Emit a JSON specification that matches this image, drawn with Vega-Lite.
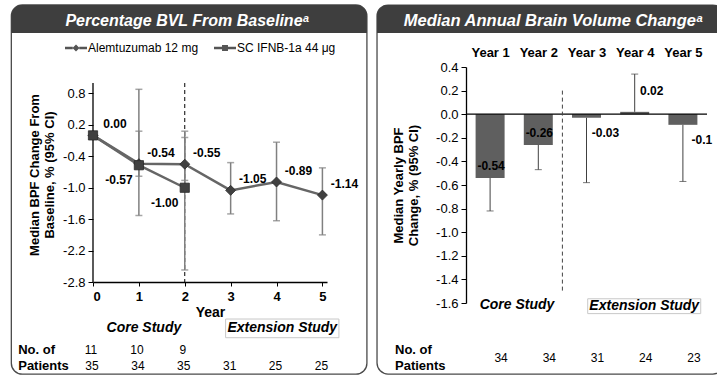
{
  "$schema": "https://vega.github.io/schema/vega-lite/v6.json",
  "padding": {"left": 10, "top": 4, "right": 0, "bottom": 0},
  "spacing": 8,
  "background": "white",
  "config": {
    "view": {"stroke": null},
    "font": "Liberation Sans",
    "locale": {"number": {"decimal": ".", "thousands": ",", "grouping": [3], "currency": ["$", ""], "minus": "-"}},
    "scale": {"continuousPadding": 0},
    "axis": {"labelFont": "Liberation Sans", "titleFont": "Liberation Sans", "labelColor": "#000000", "titleColor": "#000000", "domainColor": "#000000", "tickColor": "#000000", "grid": false, "labelFontSize": 13, "titleFontSize": 13, "titleFontWeight": "bold", "domainWidth": 1.3, "tickWidth": 1}
  },
  "datasets": {
    "bvl": [
      {"year": 0, "arm": "Alemtuzumab 12 mg", "median": 0.0, "lo": 0.0, "hi": 0.0},
      {"year": 1, "arm": "Alemtuzumab 12 mg", "median": -0.54, "lo": -0.78, "hi": 0.08},
      {"year": 2, "arm": "Alemtuzumab 12 mg", "median": -0.55, "lo": -0.86, "hi": 0.08},
      {"year": 3, "arm": "Alemtuzumab 12 mg", "median": -1.05, "lo": -1.5, "hi": -0.52},
      {"year": 4, "arm": "Alemtuzumab 12 mg", "median": -0.89, "lo": -1.63, "hi": -0.13},
      {"year": 5, "arm": "Alemtuzumab 12 mg", "median": -1.14, "lo": -1.9, "hi": -0.62},
      {"year": 0, "arm": "SC IFNB-1a 44 μg", "median": 0.0, "lo": 0.0, "hi": 0.0},
      {"year": 1, "arm": "SC IFNB-1a 44 μg", "median": -0.57, "lo": -1.53, "hi": 0.88},
      {"year": 2, "arm": "SC IFNB-1a 44 μg", "median": -1.0, "lo": -2.57, "hi": -0.04}
    ],
    "bvl_n": [
      {"year": 0, "arm": "SC IFNB-1a 44 μg", "n": 11},
      {"year": 1, "arm": "SC IFNB-1a 44 μg", "n": 10},
      {"year": 2, "arm": "SC IFNB-1a 44 μg", "n": 9},
      {"year": 0, "arm": "Alemtuzumab 12 mg", "n": 35},
      {"year": 1, "arm": "Alemtuzumab 12 mg", "n": 34},
      {"year": 2, "arm": "Alemtuzumab 12 mg", "n": 35},
      {"year": 3, "arm": "Alemtuzumab 12 mg", "n": 31},
      {"year": 4, "arm": "Alemtuzumab 12 mg", "n": 25},
      {"year": 5, "arm": "Alemtuzumab 12 mg", "n": 25}
    ],
    "abv": [
      {"year": 1, "median": -0.54, "ci": -0.82, "text": "-0.54", "n": 34},
      {"year": 2, "median": -0.26, "ci": -0.47, "text": "-0.26", "n": 34},
      {"year": 3, "median": -0.03, "ci": -0.58, "text": "-0.03", "n": 31},
      {"year": 4, "median": 0.02, "ci": 0.34, "text": "0.02", "n": 24},
      {"year": 5, "median": -0.09, "ci": -0.57, "text": "-0.1", "n": 23}
    ]
  },
  "hconcat": [
    {
      "width": 234,
      "height": 215,
      "layer": [
        {
          "data": {"values": [{"panel": "Percentage BVL From Baseline"}]},
          "mark": {"type": "rect", "fill": "transparent", "stroke": "#4a4a4a", "strokeWidth": 1.3, "cornerRadius": 11, "clip": false},
          "encoding": {
            "x": {"datum": -1.78, "type": "quantitative", "scale": {"domain": [0, 5.1], "nice": false, "zero": false, "padding": 0}, "axis": {"values": [0, 1, 2, 3, 4, 5], "format": "d", "title": "Year", "labelFontWeight": "bold", "labelFontSize": 13, "titleFontSize": 14, "tickSize": 4, "labelPadding": 4, "titlePadding": 2}},
            "x2": {"datum": 5.97},
            "y": {"datum": 2.49, "type": "quantitative", "scale": {"domain": [-2.8, 1.306], "nice": false, "zero": false, "padding": 0}, "axis": {"values": [-2.8, -2.2, -1.6, -1.0, -0.4, 0.2, 0.8], "format": ".1f", "title": ["Median BPF Change From", "Baseline, % (95% CI)"], "domain": false, "tickSize": 5, "labelPadding": 3, "titlePadding": 6}},
            "y2": {"datum": -4.56}
          }
        },
        {
          "data": {"values": [{"panel": "Percentage BVL From Baseline"}]},
          "mark": {"type": "rect", "fill": "#3e3e3e", "cornerRadiusTopLeft": 11, "cornerRadiusTopRight": 11, "clip": false},
          "encoding": {
            "x": {"datum": -1.78, "type": "quantitative", "scale": {"domain": [0, 5.1], "nice": false, "zero": false, "padding": 0}, "axis": {"values": [0, 1, 2, 3, 4, 5], "format": "d", "title": "Year", "labelFontWeight": "bold", "labelFontSize": 13, "titleFontSize": 14, "tickSize": 4, "labelPadding": 4, "titlePadding": 2}},
            "x2": {"datum": 5.97},
            "y": {"datum": 2.49, "type": "quantitative", "scale": {"domain": [-2.8, 1.306], "nice": false, "zero": false, "padding": 0}, "axis": {"values": [-2.8, -2.2, -1.6, -1.0, -0.4, 0.2, 0.8], "format": ".1f", "title": ["Median BPF Change From", "Baseline, % (95% CI)"], "domain": false, "tickSize": 5, "labelPadding": 3, "titlePadding": 6}},
            "y2": {"datum": 1.955}
          }
        },
        {
          "data": {"values": [{"title": "Percentage BVL From Baselineᵃ"}]},
          "mark": {"type": "text", "color": "#ffffff", "fontSize": 16, "fontWeight": "bold", "fontStyle": "italic", "clip": false},
          "encoding": {
            "x": {"datum": 2.05, "type": "quantitative", "scale": {"domain": [0, 5.1], "nice": false, "zero": false, "padding": 0}, "axis": {"values": [0, 1, 2, 3, 4, 5], "format": "d", "title": "Year", "labelFontWeight": "bold", "labelFontSize": 13, "titleFontSize": 14, "tickSize": 4, "labelPadding": 4, "titlePadding": 2}},
            "y": {"datum": 2.184, "type": "quantitative", "scale": {"domain": [-2.8, 1.306], "nice": false, "zero": false, "padding": 0}, "axis": {"values": [-2.8, -2.2, -1.6, -1.0, -0.4, 0.2, 0.8], "format": ".1f", "title": ["Median BPF Change From", "Baseline, % (95% CI)"], "domain": false, "tickSize": 5, "labelPadding": 3, "titlePadding": 6}},
            "text": {"field": "title"}
          }
        },
        {
          "data": {"name": "bvl"},
          "transform": [{"filter": "datum.year == 0"}],
          "mark": {"type": "point", "filled": true, "color": "#555555", "opacity": 0},
          "encoding": {
            "x": {"field": "year", "type": "quantitative", "scale": {"domain": [0, 5.1], "nice": false, "zero": false, "padding": 0}, "axis": {"values": [0, 1, 2, 3, 4, 5], "format": "d", "title": "Year", "labelFontWeight": "bold", "labelFontSize": 13, "titleFontSize": 14, "tickSize": 4, "labelPadding": 4, "titlePadding": 2}},
            "y": {"field": "median", "type": "quantitative", "scale": {"domain": [-2.8, 1.306], "nice": false, "zero": false, "padding": 0}, "axis": {"values": [-2.8, -2.2, -1.6, -1.0, -0.4, 0.2, 0.8], "format": ".1f", "title": ["Median BPF Change From", "Baseline, % (95% CI)"], "domain": false, "tickSize": 5, "labelPadding": 3, "titlePadding": 6}},
            "shape": {
              "field": "arm", "type": "nominal",
              "scale": {"domain": ["Alemtuzumab 12 mg", "SC IFNB-1a 44 μg"], "range": ["M-1,-0.11H-0.3V0.11H-1Z M0.3,-0.11H1V0.11H0.3Z M0,-0.32L0.32,0L0,0.32L-0.32,0Z", "M-1,-0.11H-0.27V0.11H-1Z M0.27,-0.11H1V0.11H0.27Z M-0.27,-0.27H0.27V0.27H-0.27Z"]},
              "legend": {"orient": "none", "legendX": -28, "legendY": -30, "direction": "horizontal", "title": null, "symbolSize": 484, "symbolOpacity": 1, "symbolFillColor": "#505050", "symbolStrokeWidth": 0, "labelFontSize": 12, "labelFont": "Liberation Sans", "labelColor": "#000000", "labelOffset": 1, "columnPadding": 15}
            }
          }
        },
        {
          "data": {"values": [{"axis": "y axis line"}]},
          "mark": {"type": "rule", "color": "#000000", "strokeWidth": 1.3},
          "encoding": {
            "x": {"datum": 0, "type": "quantitative", "scale": {"domain": [0, 5.1], "nice": false, "zero": false, "padding": 0}, "axis": {"values": [0, 1, 2, 3, 4, 5], "format": "d", "title": "Year", "labelFontWeight": "bold", "labelFontSize": 13, "titleFontSize": 14, "tickSize": 4, "labelPadding": 4, "titlePadding": 2}},
            "y": {"datum": 1.0, "type": "quantitative", "scale": {"domain": [-2.8, 1.306], "nice": false, "zero": false, "padding": 0}, "axis": {"values": [-2.8, -2.2, -1.6, -1.0, -0.4, 0.2, 0.8], "format": ".1f", "title": ["Median BPF Change From", "Baseline, % (95% CI)"], "domain": false, "tickSize": 5, "labelPadding": 3, "titlePadding": 6}},
            "y2": {"datum": -2.8}
          }
        },
        {
          "data": {"values": [{"phase": "end of core study"}]},
          "mark": {"type": "rule", "color": "#000000", "strokeWidth": 1, "strokeDash": [4, 3]},
          "encoding": {
            "x": {"datum": 2, "type": "quantitative", "scale": {"domain": [0, 5.1], "nice": false, "zero": false, "padding": 0}, "axis": {"values": [0, 1, 2, 3, 4, 5], "format": "d", "title": "Year", "labelFontWeight": "bold", "labelFontSize": 13, "titleFontSize": 14, "tickSize": 4, "labelPadding": 4, "titlePadding": 2}},
            "y": {"datum": 1.0, "type": "quantitative", "scale": {"domain": [-2.8, 1.306], "nice": false, "zero": false, "padding": 0}, "axis": {"values": [-2.8, -2.2, -1.6, -1.0, -0.4, 0.2, 0.8], "format": ".1f", "title": ["Median BPF Change From", "Baseline, % (95% CI)"], "domain": false, "tickSize": 5, "labelPadding": 3, "titlePadding": 6}},
            "y2": {"datum": -2.8}
          }
        },
        {
          "data": {"name": "bvl"},
          "transform": [{"filter": "datum.year > 0"}],
          "mark": {"type": "rule", "color": "#808080", "strokeWidth": 1.5},
          "encoding": {
            "x": {"field": "year", "type": "quantitative", "scale": {"domain": [0, 5.1], "nice": false, "zero": false, "padding": 0}, "axis": {"values": [0, 1, 2, 3, 4, 5], "format": "d", "title": "Year", "labelFontWeight": "bold", "labelFontSize": 13, "titleFontSize": 14, "tickSize": 4, "labelPadding": 4, "titlePadding": 2}},
            "y": {"field": "lo", "type": "quantitative", "scale": {"domain": [-2.8, 1.306], "nice": false, "zero": false, "padding": 0}, "axis": {"values": [-2.8, -2.2, -1.6, -1.0, -0.4, 0.2, 0.8], "format": ".1f", "title": ["Median BPF Change From", "Baseline, % (95% CI)"], "domain": false, "tickSize": 5, "labelPadding": 3, "titlePadding": 6}},
            "y2": {"field": "hi"}
          }
        },
        {
          "data": {"name": "bvl"},
          "transform": [{"filter": "datum.year > 0"}],
          "mark": {"type": "tick", "orient": "horizontal", "color": "#808080", "size": 7, "thickness": 1.5},
          "encoding": {
            "x": {"field": "year", "type": "quantitative", "scale": {"domain": [0, 5.1], "nice": false, "zero": false, "padding": 0}, "axis": {"values": [0, 1, 2, 3, 4, 5], "format": "d", "title": "Year", "labelFontWeight": "bold", "labelFontSize": 13, "titleFontSize": 14, "tickSize": 4, "labelPadding": 4, "titlePadding": 2}},
            "y": {"field": "lo", "type": "quantitative", "scale": {"domain": [-2.8, 1.306], "nice": false, "zero": false, "padding": 0}, "axis": {"values": [-2.8, -2.2, -1.6, -1.0, -0.4, 0.2, 0.8], "format": ".1f", "title": ["Median BPF Change From", "Baseline, % (95% CI)"], "domain": false, "tickSize": 5, "labelPadding": 3, "titlePadding": 6}}
          }
        },
        {
          "data": {"name": "bvl"},
          "transform": [{"filter": "datum.year > 0"}],
          "mark": {"type": "tick", "orient": "horizontal", "color": "#808080", "size": 7, "thickness": 1.5},
          "encoding": {
            "x": {"field": "year", "type": "quantitative", "scale": {"domain": [0, 5.1], "nice": false, "zero": false, "padding": 0}, "axis": {"values": [0, 1, 2, 3, 4, 5], "format": "d", "title": "Year", "labelFontWeight": "bold", "labelFontSize": 13, "titleFontSize": 14, "tickSize": 4, "labelPadding": 4, "titlePadding": 2}},
            "y": {"field": "hi", "type": "quantitative", "scale": {"domain": [-2.8, 1.306], "nice": false, "zero": false, "padding": 0}, "axis": {"values": [-2.8, -2.2, -1.6, -1.0, -0.4, 0.2, 0.8], "format": ".1f", "title": ["Median BPF Change From", "Baseline, % (95% CI)"], "domain": false, "tickSize": 5, "labelPadding": 3, "titlePadding": 6}}
          }
        },
        {
          "data": {"name": "bvl"},
          "mark": {"type": "line", "color": "#666666", "strokeWidth": 2.5},
          "encoding": {
            "x": {"field": "year", "type": "quantitative", "scale": {"domain": [0, 5.1], "nice": false, "zero": false, "padding": 0}, "axis": {"values": [0, 1, 2, 3, 4, 5], "format": "d", "title": "Year", "labelFontWeight": "bold", "labelFontSize": 13, "titleFontSize": 14, "tickSize": 4, "labelPadding": 4, "titlePadding": 2}},
            "y": {"field": "median", "type": "quantitative", "scale": {"domain": [-2.8, 1.306], "nice": false, "zero": false, "padding": 0}, "axis": {"values": [-2.8, -2.2, -1.6, -1.0, -0.4, 0.2, 0.8], "format": ".1f", "title": ["Median BPF Change From", "Baseline, % (95% CI)"], "domain": false, "tickSize": 5, "labelPadding": 3, "titlePadding": 6}},
            "detail": {"field": "arm"}
          }
        },
        {
          "data": {"name": "bvl"},
          "transform": [{"filter": "datum.arm == 'Alemtuzumab 12 mg'"}],
          "mark": {"type": "point", "shape": "diamond", "filled": true, "color": "#404040", "stroke": "#2a2a2a", "strokeWidth": 0.8, "size": 100, "opacity": 1},
          "encoding": {
            "x": {"field": "year", "type": "quantitative", "scale": {"domain": [0, 5.1], "nice": false, "zero": false, "padding": 0}, "axis": {"values": [0, 1, 2, 3, 4, 5], "format": "d", "title": "Year", "labelFontWeight": "bold", "labelFontSize": 13, "titleFontSize": 14, "tickSize": 4, "labelPadding": 4, "titlePadding": 2}},
            "y": {"field": "median", "type": "quantitative", "scale": {"domain": [-2.8, 1.306], "nice": false, "zero": false, "padding": 0}, "axis": {"values": [-2.8, -2.2, -1.6, -1.0, -0.4, 0.2, 0.8], "format": ".1f", "title": ["Median BPF Change From", "Baseline, % (95% CI)"], "domain": false, "tickSize": 5, "labelPadding": 3, "titlePadding": 6}}
          }
        },
        {
          "data": {"name": "bvl"},
          "transform": [{"filter": "datum.arm == 'SC IFNB-1a 44 μg'"}],
          "mark": {"type": "point", "shape": "square", "filled": true, "color": "#404040", "stroke": "#2a2a2a", "strokeWidth": 0.8, "size": 85, "opacity": 1},
          "encoding": {
            "x": {"field": "year", "type": "quantitative", "scale": {"domain": [0, 5.1], "nice": false, "zero": false, "padding": 0}, "axis": {"values": [0, 1, 2, 3, 4, 5], "format": "d", "title": "Year", "labelFontWeight": "bold", "labelFontSize": 13, "titleFontSize": 14, "tickSize": 4, "labelPadding": 4, "titlePadding": 2}},
            "y": {"field": "median", "type": "quantitative", "scale": {"domain": [-2.8, 1.306], "nice": false, "zero": false, "padding": 0}, "axis": {"values": [-2.8, -2.2, -1.6, -1.0, -0.4, 0.2, 0.8], "format": ".1f", "title": ["Median BPF Change From", "Baseline, % (95% CI)"], "domain": false, "tickSize": 5, "labelPadding": 3, "titlePadding": 6}}
          }
        },
        {
          "data": {"name": "bvl"},
          "transform": [{"filter": "datum.arm == 'Alemtuzumab 12 mg'"}],
          "mark": {"type": "text", "fontSize": 12, "fontWeight": "bold", "color": "#000000", "dx": 22, "dy": -11},
          "encoding": {
            "x": {"field": "year", "type": "quantitative", "scale": {"domain": [0, 5.1], "nice": false, "zero": false, "padding": 0}, "axis": {"values": [0, 1, 2, 3, 4, 5], "format": "d", "title": "Year", "labelFontWeight": "bold", "labelFontSize": 13, "titleFontSize": 14, "tickSize": 4, "labelPadding": 4, "titlePadding": 2}},
            "y": {"field": "median", "type": "quantitative", "scale": {"domain": [-2.8, 1.306], "nice": false, "zero": false, "padding": 0}, "axis": {"values": [-2.8, -2.2, -1.6, -1.0, -0.4, 0.2, 0.8], "format": ".1f", "title": ["Median BPF Change From", "Baseline, % (95% CI)"], "domain": false, "tickSize": 5, "labelPadding": 3, "titlePadding": 6}},
            "text": {"field": "median", "type": "quantitative", "format": ".2f"}
          }
        },
        {
          "data": {"name": "bvl"},
          "transform": [{"filter": "datum.arm == 'SC IFNB-1a 44 μg' && datum.year > 0"}],
          "mark": {"type": "text", "fontSize": 12, "fontWeight": "bold", "color": "#000000", "dx": -20, "dy": 15},
          "encoding": {
            "x": {"field": "year", "type": "quantitative", "scale": {"domain": [0, 5.1], "nice": false, "zero": false, "padding": 0}, "axis": {"values": [0, 1, 2, 3, 4, 5], "format": "d", "title": "Year", "labelFontWeight": "bold", "labelFontSize": 13, "titleFontSize": 14, "tickSize": 4, "labelPadding": 4, "titlePadding": 2}},
            "y": {"field": "median", "type": "quantitative", "scale": {"domain": [-2.8, 1.306], "nice": false, "zero": false, "padding": 0}, "axis": {"values": [-2.8, -2.2, -1.6, -1.0, -0.4, 0.2, 0.8], "format": ".1f", "title": ["Median BPF Change From", "Baseline, % (95% CI)"], "domain": false, "tickSize": 5, "labelPadding": 3, "titlePadding": 6}},
            "text": {"field": "median", "type": "quantitative", "format": ".2f"}
          }
        },
        {
          "data": {"values": [{"label": "Core Study"}]},
          "mark": {"type": "text", "fontSize": 14, "fontWeight": "bold", "fontStyle": "italic", "color": "#000000", "clip": false},
          "encoding": {
            "x": {"datum": 1.11, "type": "quantitative", "scale": {"domain": [0, 5.1], "nice": false, "zero": false, "padding": 0}, "axis": {"values": [0, 1, 2, 3, 4, 5], "format": "d", "title": "Year", "labelFontWeight": "bold", "labelFontSize": 13, "titleFontSize": 14, "tickSize": 4, "labelPadding": 4, "titlePadding": 2}},
            "y": {"datum": -3.68, "type": "quantitative", "scale": {"domain": [-2.8, 1.306], "nice": false, "zero": false, "padding": 0}, "axis": {"values": [-2.8, -2.2, -1.6, -1.0, -0.4, 0.2, 0.8], "format": ".1f", "title": ["Median BPF Change From", "Baseline, % (95% CI)"], "domain": false, "tickSize": 5, "labelPadding": 3, "titlePadding": 6}},
            "text": {"field": "label"}
          }
        },
        {
          "data": {"values": [{"label": "Extension Study"}]},
          "mark": {"type": "rect", "fill": "#ffffff", "stroke": "#c8c8c8", "strokeWidth": 1, "clip": false},
          "encoding": {
            "x": {"datum": 2.89, "type": "quantitative", "scale": {"domain": [0, 5.1], "nice": false, "zero": false, "padding": 0}, "axis": {"values": [0, 1, 2, 3, 4, 5], "format": "d", "title": "Year", "labelFontWeight": "bold", "labelFontSize": 13, "titleFontSize": 14, "tickSize": 4, "labelPadding": 4, "titlePadding": 2}},
            "x2": {"datum": 5.36},
            "y": {"datum": -3.507, "type": "quantitative", "scale": {"domain": [-2.8, 1.306], "nice": false, "zero": false, "padding": 0}, "axis": {"values": [-2.8, -2.2, -1.6, -1.0, -0.4, 0.2, 0.8], "format": ".1f", "title": ["Median BPF Change From", "Baseline, % (95% CI)"], "domain": false, "tickSize": 5, "labelPadding": 3, "titlePadding": 6}},
            "y2": {"datum": -3.864}
          }
        },
        {
          "data": {"values": [{"label": "Extension Study"}]},
          "mark": {"type": "text", "fontSize": 14, "fontWeight": "bold", "fontStyle": "italic", "color": "#000000", "clip": false},
          "encoding": {
            "x": {"datum": 4.125, "type": "quantitative", "scale": {"domain": [0, 5.1], "nice": false, "zero": false, "padding": 0}, "axis": {"values": [0, 1, 2, 3, 4, 5], "format": "d", "title": "Year", "labelFontWeight": "bold", "labelFontSize": 13, "titleFontSize": 14, "tickSize": 4, "labelPadding": 4, "titlePadding": 2}},
            "y": {"datum": -3.686, "type": "quantitative", "scale": {"domain": [-2.8, 1.306], "nice": false, "zero": false, "padding": 0}, "axis": {"values": [-2.8, -2.2, -1.6, -1.0, -0.4, 0.2, 0.8], "format": ".1f", "title": ["Median BPF Change From", "Baseline, % (95% CI)"], "domain": false, "tickSize": 5, "labelPadding": 3, "titlePadding": 6}},
            "text": {"field": "label"}
          }
        },
        {
          "data": {"values": [{"label": "No. of\nPatients"}]},
          "mark": {"type": "text", "fontSize": 13, "fontWeight": "bold", "align": "left", "baseline": "middle", "lineBreak": "\n", "lineHeight": 16, "color": "#000000", "clip": false},
          "encoding": {
            "x": {"datum": -1.63, "type": "quantitative", "scale": {"domain": [0, 5.1], "nice": false, "zero": false, "padding": 0}, "axis": {"values": [0, 1, 2, 3, 4, 5], "format": "d", "title": "Year", "labelFontWeight": "bold", "labelFontSize": 13, "titleFontSize": 14, "tickSize": 4, "labelPadding": 4, "titlePadding": 2}},
            "y": {"datum": -4.104, "type": "quantitative", "scale": {"domain": [-2.8, 1.306], "nice": false, "zero": false, "padding": 0}, "axis": {"values": [-2.8, -2.2, -1.6, -1.0, -0.4, 0.2, 0.8], "format": ".1f", "title": ["Median BPF Change From", "Baseline, % (95% CI)"], "domain": false, "tickSize": 5, "labelPadding": 3, "titlePadding": 6}},
            "text": {"field": "label"}
          }
        },
        {
          "data": {"name": "bvl_n"},
          "transform": [{"filter": "datum.arm == 'SC IFNB-1a 44 μg'"}],
          "mark": {"type": "text", "fontSize": 12, "color": "#000000", "clip": false, "dx": -2},
          "encoding": {
            "x": {"field": "year", "type": "quantitative", "scale": {"domain": [0, 5.1], "nice": false, "zero": false, "padding": 0}, "axis": {"values": [0, 1, 2, 3, 4, 5], "format": "d", "title": "Year", "labelFontWeight": "bold", "labelFontSize": 13, "titleFontSize": 14, "tickSize": 4, "labelPadding": 4, "titlePadding": 2}},
            "y": {"datum": -4.104, "type": "quantitative", "scale": {"domain": [-2.8, 1.306], "nice": false, "zero": false, "padding": 0}, "axis": {"values": [-2.8, -2.2, -1.6, -1.0, -0.4, 0.2, 0.8], "format": ".1f", "title": ["Median BPF Change From", "Baseline, % (95% CI)"], "domain": false, "tickSize": 5, "labelPadding": 3, "titlePadding": 6}},
            "text": {"field": "n", "type": "quantitative"}
          }
        },
        {
          "data": {"name": "bvl_n"},
          "transform": [{"filter": "datum.arm == 'Alemtuzumab 12 mg'"}],
          "mark": {"type": "text", "fontSize": 12, "color": "#000000", "clip": false, "dx": -1},
          "encoding": {
            "x": {"field": "year", "type": "quantitative", "scale": {"domain": [0, 5.1], "nice": false, "zero": false, "padding": 0}, "axis": {"values": [0, 1, 2, 3, 4, 5], "format": "d", "title": "Year", "labelFontWeight": "bold", "labelFontSize": 13, "titleFontSize": 14, "tickSize": 4, "labelPadding": 4, "titlePadding": 2}},
            "y": {"datum": -4.404, "type": "quantitative", "scale": {"domain": [-2.8, 1.306], "nice": false, "zero": false, "padding": 0}, "axis": {"values": [-2.8, -2.2, -1.6, -1.0, -0.4, 0.2, 0.8], "format": ".1f", "title": ["Median BPF Change From", "Baseline, % (95% CI)"], "domain": false, "tickSize": 5, "labelPadding": 3, "titlePadding": 6}},
            "text": {"field": "n", "type": "quantitative"}
          }
        }
      ]
    },
    {
      "width": 241,
      "height": 236,
      "layer": [
        {
          "data": {"values": [{"panel": "Median Annual Brain Volume Change"}]},
          "mark": {"type": "rect", "fill": "transparent", "stroke": "#4a4a4a", "strokeWidth": 1.3, "cornerRadius": 11, "clip": false},
          "encoding": {
            "x": {"datum": -1.346, "type": "quantitative", "scale": {"domain": [0.5, 5.5], "nice": false, "zero": false, "padding": 0}, "axis": {"orient": "top", "values": [1, 2, 3, 4, 5], "labelExpr": "'Year ' + datum.value", "labelFontWeight": "bold", "labelFontSize": 13, "domain": false, "ticks": false, "labelPadding": 8, "title": null}},
            "x2": {"datum": 5.85},
            "y": {"datum": 0.925, "type": "quantitative", "scale": {"domain": [-1.6, 0.4], "nice": false, "zero": false, "padding": 0}, "axis": {"values": [-1.6, -1.4, -1.2, -1.0, -0.8, -0.6, -0.4, -0.2, 0, 0.2, 0.4], "format": ".1f", "title": ["Median Yearly BPF", "Change, % (95% CI)"], "tickSize": 5, "labelPadding": 3, "titlePadding": 15}},
            "y2": {"datum": -2.202}
          }
        },
        {
          "data": {"values": [{"panel": "Median Annual Brain Volume Change"}]},
          "mark": {"type": "rect", "fill": "#3e3e3e", "cornerRadiusTopLeft": 11, "cornerRadiusTopRight": 11, "clip": false},
          "encoding": {
            "x": {"datum": -1.346, "type": "quantitative", "scale": {"domain": [0.5, 5.5], "nice": false, "zero": false, "padding": 0}, "axis": {"orient": "top", "values": [1, 2, 3, 4, 5], "labelExpr": "'Year ' + datum.value", "labelFontWeight": "bold", "labelFontSize": 13, "domain": false, "ticks": false, "labelPadding": 8, "title": null}},
            "x2": {"datum": 5.85},
            "y": {"datum": 0.925, "type": "quantitative", "scale": {"domain": [-1.6, 0.4], "nice": false, "zero": false, "padding": 0}, "axis": {"values": [-1.6, -1.4, -1.2, -1.0, -0.8, -0.6, -0.4, -0.2, 0, 0.2, 0.4], "format": ".1f", "title": ["Median Yearly BPF", "Change, % (95% CI)"], "tickSize": 5, "labelPadding": 3, "titlePadding": 15}},
            "y2": {"datum": 0.688}
          }
        },
        {
          "data": {"values": [{"title": "Median Annual Brain Volume Changeᵃ"}]},
          "mark": {"type": "text", "color": "#ffffff", "fontSize": 16.5, "fontWeight": "bold", "fontStyle": "italic", "clip": false},
          "encoding": {
            "x": {"datum": 2.305, "type": "quantitative", "scale": {"domain": [0.5, 5.5], "nice": false, "zero": false, "padding": 0}, "axis": {"orient": "top", "values": [1, 2, 3, 4, 5], "labelExpr": "'Year ' + datum.value", "labelFontWeight": "bold", "labelFontSize": 13, "domain": false, "ticks": false, "labelPadding": 8, "title": null}},
            "y": {"datum": 0.79, "type": "quantitative", "scale": {"domain": [-1.6, 0.4], "nice": false, "zero": false, "padding": 0}, "axis": {"values": [-1.6, -1.4, -1.2, -1.0, -0.8, -0.6, -0.4, -0.2, 0, 0.2, 0.4], "format": ".1f", "title": ["Median Yearly BPF", "Change, % (95% CI)"], "tickSize": 5, "labelPadding": 3, "titlePadding": 15}},
            "text": {"field": "title"}
          }
        },
        {
          "data": {"name": "abv"},
          "mark": {"type": "bar", "color": "#5f5f5f", "size": 29},
          "encoding": {
            "x": {"field": "year", "type": "quantitative", "scale": {"domain": [0.5, 5.5], "nice": false, "zero": false, "padding": 0}, "axis": {"orient": "top", "values": [1, 2, 3, 4, 5], "labelExpr": "'Year ' + datum.value", "labelFontWeight": "bold", "labelFontSize": 13, "domain": false, "ticks": false, "labelPadding": 8, "title": null}},
            "y": {"field": "median", "type": "quantitative", "scale": {"domain": [-1.6, 0.4], "nice": false, "zero": false, "padding": 0}, "axis": {"values": [-1.6, -1.4, -1.2, -1.0, -0.8, -0.6, -0.4, -0.2, 0, 0.2, 0.4], "format": ".1f", "title": ["Median Yearly BPF", "Change, % (95% CI)"], "tickSize": 5, "labelPadding": 3, "titlePadding": 15}},
            "y2": {"datum": 0}
          }
        },
        {
          "data": {"values": [{"line": "zero"}]},
          "mark": {"type": "rule", "color": "#000000", "strokeWidth": 1.2},
          "encoding": {
            "y": {"datum": 0, "type": "quantitative", "scale": {"domain": [-1.6, 0.4], "nice": false, "zero": false, "padding": 0}, "axis": {"values": [-1.6, -1.4, -1.2, -1.0, -0.8, -0.6, -0.4, -0.2, 0, 0.2, 0.4], "format": ".1f", "title": ["Median Yearly BPF", "Change, % (95% CI)"], "tickSize": 5, "labelPadding": 3, "titlePadding": 15}}
          }
        },
        {
          "data": {"values": [{"phase": "end of core study"}]},
          "mark": {"type": "rule", "color": "#444444", "strokeWidth": 1, "strokeDash": [4, 3]},
          "encoding": {
            "x": {"datum": 2.5, "type": "quantitative", "scale": {"domain": [0.5, 5.5], "nice": false, "zero": false, "padding": 0}, "axis": {"orient": "top", "values": [1, 2, 3, 4, 5], "labelExpr": "'Year ' + datum.value", "labelFontWeight": "bold", "labelFontSize": 13, "domain": false, "ticks": false, "labelPadding": 8, "title": null}},
            "y": {"datum": 0.2, "type": "quantitative", "scale": {"domain": [-1.6, 0.4], "nice": false, "zero": false, "padding": 0}, "axis": {"values": [-1.6, -1.4, -1.2, -1.0, -0.8, -0.6, -0.4, -0.2, 0, 0.2, 0.4], "format": ".1f", "title": ["Median Yearly BPF", "Change, % (95% CI)"], "tickSize": 5, "labelPadding": 3, "titlePadding": 15}},
            "y2": {"datum": -1.52}
          }
        },
        {
          "data": {"name": "abv"},
          "mark": {"type": "rule", "color": "#404040", "strokeWidth": 1},
          "encoding": {
            "x": {"field": "year", "type": "quantitative", "scale": {"domain": [0.5, 5.5], "nice": false, "zero": false, "padding": 0}, "axis": {"orient": "top", "values": [1, 2, 3, 4, 5], "labelExpr": "'Year ' + datum.value", "labelFontWeight": "bold", "labelFontSize": 13, "domain": false, "ticks": false, "labelPadding": 8, "title": null}},
            "y": {"field": "median", "type": "quantitative", "scale": {"domain": [-1.6, 0.4], "nice": false, "zero": false, "padding": 0}, "axis": {"values": [-1.6, -1.4, -1.2, -1.0, -0.8, -0.6, -0.4, -0.2, 0, 0.2, 0.4], "format": ".1f", "title": ["Median Yearly BPF", "Change, % (95% CI)"], "tickSize": 5, "labelPadding": 3, "titlePadding": 15}},
            "y2": {"field": "ci"}
          }
        },
        {
          "data": {"name": "abv"},
          "mark": {"type": "tick", "orient": "horizontal", "color": "#404040", "size": 7, "thickness": 1},
          "encoding": {
            "x": {"field": "year", "type": "quantitative", "scale": {"domain": [0.5, 5.5], "nice": false, "zero": false, "padding": 0}, "axis": {"orient": "top", "values": [1, 2, 3, 4, 5], "labelExpr": "'Year ' + datum.value", "labelFontWeight": "bold", "labelFontSize": 13, "domain": false, "ticks": false, "labelPadding": 8, "title": null}},
            "y": {"field": "ci", "type": "quantitative", "scale": {"domain": [-1.6, 0.4], "nice": false, "zero": false, "padding": 0}, "axis": {"values": [-1.6, -1.4, -1.2, -1.0, -0.8, -0.6, -0.4, -0.2, 0, 0.2, 0.4], "format": ".1f", "title": ["Median Yearly BPF", "Change, % (95% CI)"], "tickSize": 5, "labelPadding": 3, "titlePadding": 15}}
          }
        },
        {
          "data": {"name": "abv"},
          "transform": [{"filter": "datum.year <= 2"}],
          "mark": {"type": "text", "fontSize": 12, "fontWeight": "bold", "color": "#000000", "dx": 1, "dy": -12},
          "encoding": {
            "x": {"field": "year", "type": "quantitative", "scale": {"domain": [0.5, 5.5], "nice": false, "zero": false, "padding": 0}, "axis": {"orient": "top", "values": [1, 2, 3, 4, 5], "labelExpr": "'Year ' + datum.value", "labelFontWeight": "bold", "labelFontSize": 13, "domain": false, "ticks": false, "labelPadding": 8, "title": null}},
            "y": {"field": "median", "type": "quantitative", "scale": {"domain": [-1.6, 0.4], "nice": false, "zero": false, "padding": 0}, "axis": {"values": [-1.6, -1.4, -1.2, -1.0, -0.8, -0.6, -0.4, -0.2, 0, 0.2, 0.4], "format": ".1f", "title": ["Median Yearly BPF", "Change, % (95% CI)"], "tickSize": 5, "labelPadding": 3, "titlePadding": 15}},
            "text": {"field": "text"}
          }
        },
        {
          "data": {"name": "abv"},
          "transform": [{"filter": "datum.year == 3 || datum.year == 5"}],
          "mark": {"type": "text", "fontSize": 12, "fontWeight": "bold", "color": "#000000", "dx": 19, "dy": 15},
          "encoding": {
            "x": {"field": "year", "type": "quantitative", "scale": {"domain": [0.5, 5.5], "nice": false, "zero": false, "padding": 0}, "axis": {"orient": "top", "values": [1, 2, 3, 4, 5], "labelExpr": "'Year ' + datum.value", "labelFontWeight": "bold", "labelFontSize": 13, "domain": false, "ticks": false, "labelPadding": 8, "title": null}},
            "y": {"field": "median", "type": "quantitative", "scale": {"domain": [-1.6, 0.4], "nice": false, "zero": false, "padding": 0}, "axis": {"values": [-1.6, -1.4, -1.2, -1.0, -0.8, -0.6, -0.4, -0.2, 0, 0.2, 0.4], "format": ".1f", "title": ["Median Yearly BPF", "Change, % (95% CI)"], "tickSize": 5, "labelPadding": 3, "titlePadding": 15}},
            "text": {"field": "text"}
          }
        },
        {
          "data": {"name": "abv"},
          "transform": [{"filter": "datum.year == 4"}],
          "mark": {"type": "text", "fontSize": 12, "fontWeight": "bold", "color": "#000000", "dx": 17, "dy": -21},
          "encoding": {
            "x": {"field": "year", "type": "quantitative", "scale": {"domain": [0.5, 5.5], "nice": false, "zero": false, "padding": 0}, "axis": {"orient": "top", "values": [1, 2, 3, 4, 5], "labelExpr": "'Year ' + datum.value", "labelFontWeight": "bold", "labelFontSize": 13, "domain": false, "ticks": false, "labelPadding": 8, "title": null}},
            "y": {"field": "median", "type": "quantitative", "scale": {"domain": [-1.6, 0.4], "nice": false, "zero": false, "padding": 0}, "axis": {"values": [-1.6, -1.4, -1.2, -1.0, -0.8, -0.6, -0.4, -0.2, 0, 0.2, 0.4], "format": ".1f", "title": ["Median Yearly BPF", "Change, % (95% CI)"], "tickSize": 5, "labelPadding": 3, "titlePadding": 15}},
            "text": {"field": "text"}
          }
        },
        {
          "data": {"values": [{"label": "Core Study"}]},
          "mark": {"type": "text", "fontSize": 14, "fontWeight": "bold", "fontStyle": "italic", "color": "#000000", "clip": false},
          "encoding": {
            "x": {"datum": 1.558, "type": "quantitative", "scale": {"domain": [0.5, 5.5], "nice": false, "zero": false, "padding": 0}, "axis": {"orient": "top", "values": [1, 2, 3, 4, 5], "labelExpr": "'Year ' + datum.value", "labelFontWeight": "bold", "labelFontSize": 13, "domain": false, "ticks": false, "labelPadding": 8, "title": null}},
            "y": {"datum": -1.62, "type": "quantitative", "scale": {"domain": [-1.6, 0.4], "nice": false, "zero": false, "padding": 0}, "axis": {"values": [-1.6, -1.4, -1.2, -1.0, -0.8, -0.6, -0.4, -0.2, 0, 0.2, 0.4], "format": ".1f", "title": ["Median Yearly BPF", "Change, % (95% CI)"], "tickSize": 5, "labelPadding": 3, "titlePadding": 15}},
            "text": {"field": "label"}
          }
        },
        {
          "data": {"values": [{"label": "Extension Study"}]},
          "mark": {"type": "rect", "fill": "#ffffff", "stroke": "#c8c8c8", "strokeWidth": 1, "clip": false},
          "encoding": {
            "x": {"datum": 3.025, "type": "quantitative", "scale": {"domain": [0.5, 5.5], "nice": false, "zero": false, "padding": 0}, "axis": {"orient": "top", "values": [1, 2, 3, 4, 5], "labelExpr": "'Year ' + datum.value", "labelFontWeight": "bold", "labelFontSize": 13, "domain": false, "ticks": false, "labelPadding": 8, "title": null}},
            "x2": {"datum": 5.37},
            "y": {"datum": -1.564, "type": "quantitative", "scale": {"domain": [-1.6, 0.4], "nice": false, "zero": false, "padding": 0}, "axis": {"values": [-1.6, -1.4, -1.2, -1.0, -0.8, -0.6, -0.4, -0.2, 0, 0.2, 0.4], "format": ".1f", "title": ["Median Yearly BPF", "Change, % (95% CI)"], "tickSize": 5, "labelPadding": 3, "titlePadding": 15}},
            "y2": {"datum": -1.69}
          }
        },
        {
          "data": {"values": [{"label": "Extension Study"}]},
          "mark": {"type": "text", "fontSize": 14, "fontWeight": "bold", "fontStyle": "italic", "color": "#000000", "clip": false},
          "encoding": {
            "x": {"datum": 4.197, "type": "quantitative", "scale": {"domain": [0.5, 5.5], "nice": false, "zero": false, "padding": 0}, "axis": {"orient": "top", "values": [1, 2, 3, 4, 5], "labelExpr": "'Year ' + datum.value", "labelFontWeight": "bold", "labelFontSize": 13, "domain": false, "ticks": false, "labelPadding": 8, "title": null}},
            "y": {"datum": -1.627, "type": "quantitative", "scale": {"domain": [-1.6, 0.4], "nice": false, "zero": false, "padding": 0}, "axis": {"values": [-1.6, -1.4, -1.2, -1.0, -0.8, -0.6, -0.4, -0.2, 0, 0.2, 0.4], "format": ".1f", "title": ["Median Yearly BPF", "Change, % (95% CI)"], "tickSize": 5, "labelPadding": 3, "titlePadding": 15}},
            "text": {"field": "label"}
          }
        },
        {
          "data": {"values": [{"label": "No. of\nPatients"}]},
          "mark": {"type": "text", "fontSize": 13, "fontWeight": "bold", "align": "left", "baseline": "middle", "lineBreak": "\n", "lineHeight": 16, "color": "#000000", "clip": false},
          "encoding": {
            "x": {"datum": -0.973, "type": "quantitative", "scale": {"domain": [0.5, 5.5], "nice": false, "zero": false, "padding": 0}, "axis": {"orient": "top", "values": [1, 2, 3, 4, 5], "labelExpr": "'Year ' + datum.value", "labelFontWeight": "bold", "labelFontSize": 13, "domain": false, "ticks": false, "labelPadding": 8, "title": null}},
            "y": {"datum": -1.998, "type": "quantitative", "scale": {"domain": [-1.6, 0.4], "nice": false, "zero": false, "padding": 0}, "axis": {"values": [-1.6, -1.4, -1.2, -1.0, -0.8, -0.6, -0.4, -0.2, 0, 0.2, 0.4], "format": ".1f", "title": ["Median Yearly BPF", "Change, % (95% CI)"], "tickSize": 5, "labelPadding": 3, "titlePadding": 15}},
            "text": {"field": "label"}
          }
        },
        {
          "data": {"name": "abv"},
          "mark": {"type": "text", "fontSize": 12, "color": "#000000", "clip": false, "dx": 11},
          "encoding": {
            "x": {"field": "year", "type": "quantitative", "scale": {"domain": [0.5, 5.5], "nice": false, "zero": false, "padding": 0}, "axis": {"orient": "top", "values": [1, 2, 3, 4, 5], "labelExpr": "'Year ' + datum.value", "labelFontWeight": "bold", "labelFontSize": 13, "domain": false, "ticks": false, "labelPadding": 8, "title": null}},
            "y": {"datum": -2.066, "type": "quantitative", "scale": {"domain": [-1.6, 0.4], "nice": false, "zero": false, "padding": 0}, "axis": {"values": [-1.6, -1.4, -1.2, -1.0, -0.8, -0.6, -0.4, -0.2, 0, 0.2, 0.4], "format": ".1f", "title": ["Median Yearly BPF", "Change, % (95% CI)"], "tickSize": 5, "labelPadding": 3, "titlePadding": 15}},
            "text": {"field": "n", "type": "quantitative"}
          }
        }
      ]
    }
  ]
}
